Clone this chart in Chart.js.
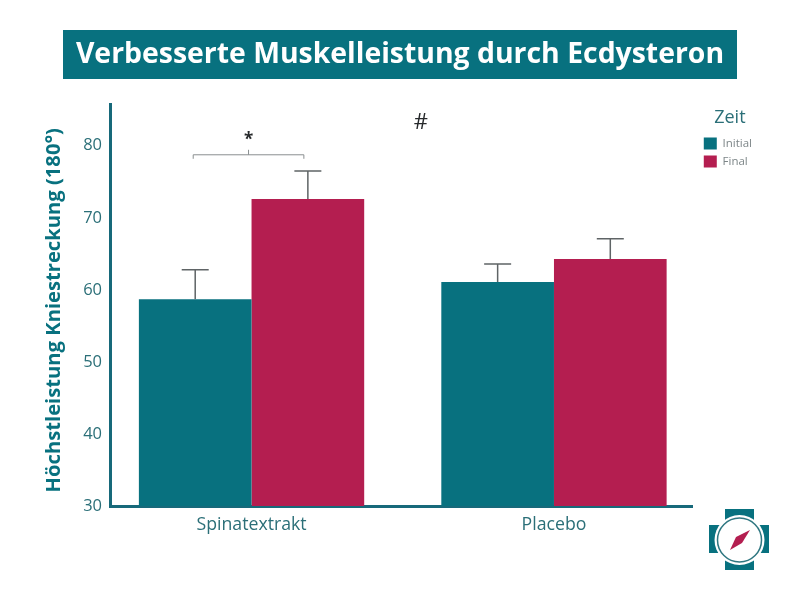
<!DOCTYPE html>
<html lang="de">
<head>
<meta charset="utf-8">
<title>Verbesserte Muskelleistung durch Ecdysteron</title>
<script src="https://cdn.jsdelivr.net/npm/chart.js@4/dist/chart.umd.min.js"></script>
<style>
  html, body { margin: 0; padding: 0; background: #fff; }
  canvas { display: block; }
</style>
</head>
<body>
<canvas id="chart" width="800" height="600"></canvas>
<script>
const chartTitle = 'Verbesserte Muskelleistung durch Ecdysteron';
const yTitle = 'Höchstleistung Kniestreckung (180°)';
const legendTitle = 'Zeit';
const categories = ['Spinatextrakt', 'Placebo'];
const categoryPos = [1, 2];
const initialValues = [58.7, 61.1];
const finalValues = [72.6, 64.3];
const initialErrorTops = [62.8, 63.6];
const finalErrorTops = [76.5, 67.1];

const TEAL = '#08717f';
const CRIMSON = '#b41e50';
const AXIS = '#17697a';
const TEXT = '#2b6f78';
const FONT = '"Open Sans", sans-serif';

function toPoints(values) {
  return values.map((v, i) => ({ x: categoryPos[i], y: v }));
}

const overlay = {
  id: 'overlay',
  afterLayout(chart) {
    // legend sits a bit away from the plot in the original
    chart.legend.left += 5;
    chart.legend.right += 5;
    chart.legend.top += 5;
  },
  afterDatasetsDraw(chart) {
    const { ctx, scales: { x, y } } = chart;

    // error bars
    ctx.save();
    ctx.strokeStyle = '#5f6466';
    ctx.lineWidth = 1.5;
    [initialErrorTops, finalErrorTops].forEach((tops, d) => {
      const bars = chart.getDatasetMeta(d).data;
      tops.forEach((top, i) => {
        const bx = bars[i].x;
        const py = y.getPixelForValue(top);
        ctx.beginPath();
        ctx.moveTo(bx, bars[i].y);
        ctx.lineTo(bx, py);
        ctx.moveTo(bx - 13.5, py);
        ctx.lineTo(bx + 13.5, py);
        ctx.stroke();
      });
    });

    // significance bracket over the first group
    const left = chart.getDatasetMeta(0).data[0].x - 2;
    const right = chart.getDatasetMeta(1).data[0].x - 4;
    const by = y.getPixelForValue(78.75);
    const mid = (left + right) / 2;
    ctx.strokeStyle = '#8a8f90';
    ctx.lineWidth = 1;
    ctx.beginPath();
    ctx.moveTo(left, by + 4);
    ctx.lineTo(left, by);
    ctx.lineTo(right, by);
    ctx.lineTo(right, by + 4);
    ctx.moveTo(mid, by);
    ctx.lineTo(mid, by - 5);
    ctx.stroke();

    ctx.fillStyle = '#26292b';
    ctx.textAlign = 'center';
    ctx.textBaseline = 'middle';
    ctx.font = 'bold 17px ' + FONT;
    ctx.fillText('*', mid, y.getPixelForValue(80.8));
    ctx.font = '22px ' + FONT;
    ctx.fillText('#', x.getPixelForValue(1.56), y.getPixelForValue(83.2));
    ctx.restore();

    // title banner
    ctx.save();
    ctx.fillStyle = TEAL;
    ctx.fillRect(63, 30, 674, 49);
    ctx.fillStyle = '#fff';
    ctx.font = 'bold 28.4px ' + FONT;
    ctx.textAlign = 'center';
    ctx.textBaseline = 'middle';
    ctx.fillText(chartTitle, 400, 54.5);
    ctx.restore();

    // compass logo
    ctx.save();
    ctx.fillStyle = TEAL;
    ctx.fillRect(725, 509, 29, 61);
    ctx.fillRect(709, 525, 60, 28);
    ctx.fillStyle = '#fff';
    ctx.beginPath();
    ctx.arc(739.5, 540, 25, 0, Math.PI * 2);
    ctx.fill();
    ctx.strokeStyle = '#2f7781';
    ctx.lineWidth = 1.5;
    ctx.beginPath();
    ctx.arc(739.5, 540, 22, 0, Math.PI * 2);
    ctx.stroke();
    ctx.fillStyle = CRIMSON;
    ctx.beginPath();
    ctx.moveTo(750, 530);
    ctx.lineTo(742, 543);
    ctx.lineTo(730, 550);
    ctx.lineTo(736, 537);
    ctx.closePath();
    ctx.fill();
    ctx.restore();
  }
};

new Chart(document.getElementById('chart'), {
  type: 'bar',
  data: {
    datasets: [
      { label: 'Initial', data: toPoints(initialValues), backgroundColor: TEAL },
      { label: 'Final', data: toPoints(finalValues), backgroundColor: CRIMSON }
    ]
  },
  options: {
    responsive: false,
    animation: false,
    categoryPercentage: 0.745,
    barPercentage: 1,
    layout: { padding: { left: 42, right: 43, top: 104, bottom: 64 } },
    scales: {
      x: {
        type: 'linear',
        offset: false,
        min: 0.532,
        max: 2.459,
        afterBuildTicks(scale) {
          scale.ticks = categoryPos.map(v => ({ value: v }));
        },
        afterFit(scale) { scale.height = 30; },
        grid: { display: false, drawTicks: false },
        border: { color: AXIS, width: 3 },
        ticks: {
          color: TEXT,
          padding: 8,
          maxRotation: 0,
          font: { family: FONT, size: 17.7 },
          callback: v => categories[categoryPos.indexOf(v)]
        }
      },
      y: {
        min: 30,
        max: 85.8,
        afterFit(scale) { scale.width = 68; },
        grid: { display: false, tickLength: 4, tickColor: AXIS },
        border: { color: AXIS, width: 3 },
        title: {
          display: true,
          // trailing spaces push the centred title down to where the original has it
          text: yTitle + '\u00a0\u00a0',
          color: TEAL,
          padding: 0,
          font: { family: FONT, size: 20.2, weight: 'bold' }
        },
        ticks: {
          stepSize: 10,
          includeBounds: false,
          color: TEXT,
          padding: 4,
          font: { family: FONT, size: 16.5 }
        }
      }
    },
    plugins: {
      legend: {
        position: 'right',
        align: 'start',
        title: {
          display: true,
          text: legendTitle,
          color: TEXT,
          padding: { top: 0, bottom: 1 },
          font: { family: FONT, size: 18 }
        },
        labels: {
          boxWidth: 13,
          boxHeight: 12,
          padding: 6,
          color: '#7d8688',
          font: { family: FONT, size: 11.5 }
        }
      },
      tooltip: { enabled: false }
    }
  },
  plugins: [overlay]
});
</script>
</body>
</html>
